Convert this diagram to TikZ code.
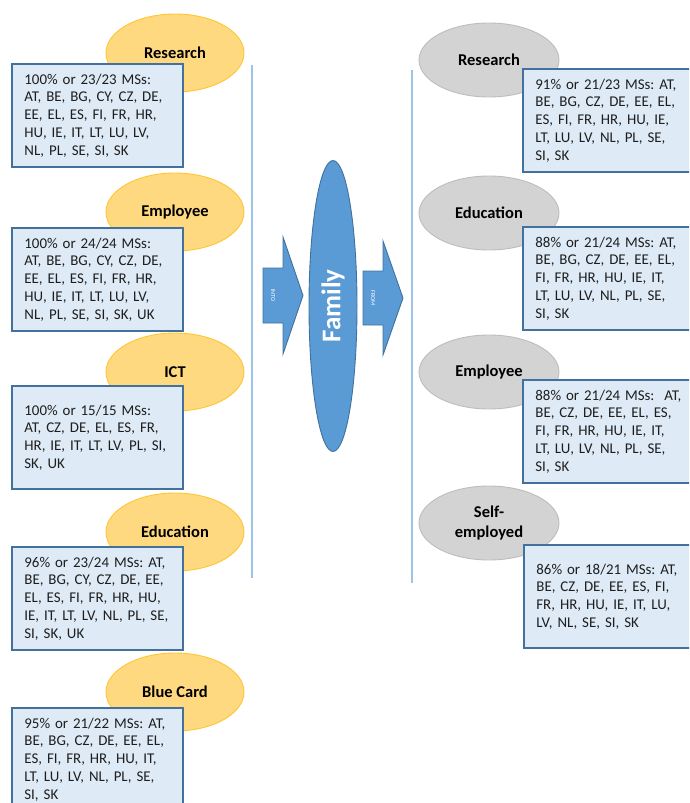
\documentclass[tikz,border=0pt]{standalone}
\usepackage{fontspec}
\setmainfont{Carlito}
\frenchspacing
\usetikzlibrary{shapes.geometric}
\definecolor{orfill}{HTML}{FFD97F}
\definecolor{ordraw}{HTML}{FFC531}
\definecolor{grfill}{HTML}{D3D3D3}
\definecolor{grdraw}{HTML}{BDBDBD}
\definecolor{bxfill}{HTML}{DEEAF6}
\definecolor{bxdraw}{HTML}{41719C}
\definecolor{famfill}{HTML}{5B9BD5}
\definecolor{vline}{HTML}{9DC3E6}
\definecolor{txt}{HTML}{1E1E1E}
\tikzset{
  orell/.style={ellipse,fill=orfill,draw=ordraw,line width=0.9pt,minimum width=138pt,minimum height=78pt,inner sep=0pt,font=\fontsize{16.5}{18}\selectfont\bfseries},
  grell/.style={ellipse,fill=grfill,draw=grdraw,line width=0.9pt,minimum width=140pt,minimum height=74pt,inner sep=0pt,align=center,font=\fontsize{16.5}{19.5}\selectfont\bfseries},
  infobox/.style={rectangle,fill=bxfill,draw=bxdraw,line width=1.8pt,minimum width=171pt,minimum height=103pt,text width=146pt,inner xsep=12.5pt,inner ysep=0pt,align=left,anchor=north west,text=txt,font=\fontsize{14.9}{17.7}\selectfont},
  sepline/.style={draw=vline,line width=1.4pt},
  bigarrow/.style={fill=famfill,draw=bxdraw,line width=0.9pt},
  arrlabel/.style={text=white,font=\fontsize{6}{6}\selectfont,rotate=-90,inner sep=0pt}
}
\begin{document}
\begin{tikzpicture}[x=1pt,y=-1pt]
\useasboundingbox (0,0) rectangle (689,803);
\clip (0,0) rectangle (689,803);
% separator lines
\coordinate (l1) at (252,65); \coordinate (l2) at (252,578);
\coordinate (r1) at (412,70); \coordinate (r2) at (412,583);
\draw[sepline] (l1) -- (l2);
\draw[sepline] (r1) -- (r2);
% left column
\node[orell] (lres) at (175,53) {Research};
\node[infobox] (bres) at (11,63) {100\% or 23/23 MSs:\\AT, BE, BG, CY, CZ, DE,\\EE, EL, ES, FI, FR, HR,\\HU, IE, IT, LT, LU, LV,\\NL, PL, SE, SI, SK};
\node[orell] (lemp) at (175,212) {Employee};
\node[infobox] (bemp) at (11,227) {100\% or 24/24 MSs:\\AT, BE, BG, CY, CZ, DE,\\EE, EL, ES, FI, FR, HR,\\HU, IE, IT, LT, LU, LV,\\NL, PL, SE, SI, SK, UK};
\node[orell] (lict) at (175,372) {ICT};
\node[infobox] (bict) at (11,385) {100\% or 15/15 MSs:\\AT, CZ, DE, EL, ES, FR,\\HR, IE, IT, LT, LV, PL, SI,\\SK, UK};
\node[orell] (ledu) at (175,532) {Education};
\node[infobox] (bedu) at (11,546) {96\% or 23/24 MSs: AT,\\BE, BG, CY, CZ, DE, EE,\\EL, ES, FI, FR, HR, HU,\\IE, IT, LT, LV, NL, PL, SE,\\SI, SK, UK};
\node[orell] (lblu) at (175,692) {Blue Card};
\node[infobox] (bblu) at (11,707) {95\% or 21/22 MSs: AT,\\BE, BG, CZ, DE, EE, EL,\\ES, FI, FR, HR, HU, IT,\\LT, LU, LV, NL, PL, SE,\\SI, SK};
% centre
\draw[bigarrow] (263,268) -- (283,268) -- (283,237) -- (303,295.5) -- (283,354) -- (283,323) -- (263,323) -- cycle;
\node[arrlabel] (into) at (273,295.5) {INTO};
\node[ellipse,fill=famfill,draw=bxdraw,line width=0.9pt,minimum width=48pt,minimum height=291pt,inner sep=0pt] (fam) at (333,306) {};
\node[rotate=90,text=white,font=\fontsize{27}{30}\selectfont\bfseries,inner sep=0pt] (famtxt) at (fam.center) {Family};
\draw[bigarrow] (363,271) -- (383,271) -- (383,241) -- (403,298) -- (383,355) -- (383,325) -- (363,325) -- cycle;
\node[arrlabel] (from) at (373,298) {FROM};
% right column
\node[grell] (rres) at (489,60) {Research};
\node[infobox] (cres) at (522,68) {91\% or 21/23 MSs: AT,\\BE, BG, CZ, DE, EE, EL,\\ES, FI, FR, HR, HU, IE,\\LT, LU, LV, NL, PL, SE,\\SI, SK};
\node[grell] (redu) at (489,213) {Education};
\node[infobox] (cedu) at (522,226) {88\% or 21/24 MSs: AT,\\BE, BG, CZ, DE, EE, EL,\\FI, FR, HR, HU, IE, IT,\\LT, LU, LV, NL, PL, SE,\\SI, SK};
\node[grell] (remp) at (489,372) {Employee};
\node[infobox] (cemp) at (522,379) {88\% or 21/24 MSs:\ \ AT,\\BE, CZ, DE, EE, EL, ES,\\FI, FR, HR, HU, IE, IT,\\LT, LU, LV, NL, PL, SE,\\SI, SK};
\node[grell] (rself) at (489,523) {Self-\\employed};
\node[infobox] (cself) at (523,544) {86\% or 18/21 MSs: AT,\\BE, CZ, DE, EE, ES, FI,\\FR, HR, HU, IE, IT, LU,\\LV, NL, SE, SI, SK};
\end{tikzpicture}
\end{document}
